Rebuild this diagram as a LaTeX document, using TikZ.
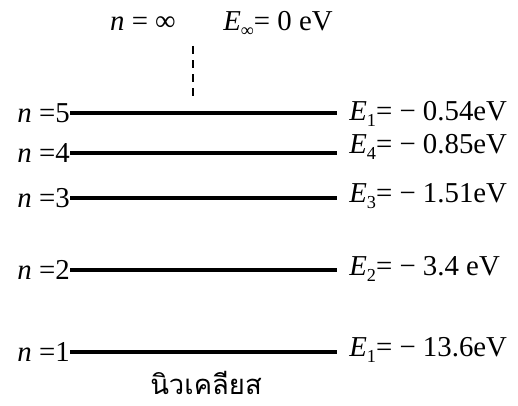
\documentclass[tikz,border=0pt]{standalone}
\usepackage{fontspec}
\setmainfont{Liberation Serif}
\newfontfamily\thaifont[Script=Thai]{Loma}
\usepackage{tikz}
\usetikzlibrary{positioning, calc}
\tikzset{
  lvl label/.style={
    inner sep=0pt,
    font=\fontsize{20.5}{24}\selectfont
  },
  n label/.style={lvl label, anchor=east},
  e label/.style={lvl label, anchor=west},
  level line/.style={
    line width=2.2pt,
    shorten >=0.3cm
  },
  limit line/.style={
    line width=1.2pt,
    dash pattern=on 0.2cm off 0.15cm
  }
}
\newcommand{\en}[1]{\textit{E}\raisebox{-0.45ex}{\fontsize{13}{14}\selectfont #1}}

\begin{document}
\begin{tikzpicture}[x=0.025cm, y=-0.025cm]
  \useasboundingbox (0,0) rectangle (518,406);

  % Top: ionisation limit
  \node[lvl label] (ninf) at (143, 24) {\textit{n} = ∞};
  \node[lvl label] (einf) at (278, 24) {\en{∞}= 0 eV};
  \coordinate (dtop) at (193, 46);
  \coordinate (dbot) at (193, 98);
  \draw[limit line] (dtop) -- (dbot);

  % Left labels
  \node[n label] (n5) at (70, 113) {\textit{n} =5};
  \node[n label] (n4) at (70, 153) {\textit{n} =4};
  \node[n label] (n3) at (70, 198) {\textit{n} =3};
  \node[n label] (n2) at (70, 270) {\textit{n} =2};
  \node[n label] (n1) at (70, 352) {\textit{n} =1};

  % Right labels
  \node[e label] (e5) at (349, 114) {\en{1}= − 0.54eV};
  \node[e label] (e4) at (349, 147) {\en{4}= − 0.85eV};
  \node[e label] (e3) at (349, 196) {\en{3}= − 1.51eV};
  \node[e label] (e2) at (349, 269) {\en{2}= − 3.4 eV};
  \node[e label] (e1) at (349, 350) {\en{1}= − 13.6eV};

  % Levels
  \draw[level line] (n5.east) -- (n5.east -| e5.west);
  \draw[level line] (n4.east) -- (n4.east -| e4.west);
  \draw[level line] (n3.east) -- (n3.east -| e3.west);
  \draw[level line] (n2.east) -- (n2.east -| e2.west);
  \draw[level line] (n1.east) -- (n1.east -| e1.west);

  % Nucleus
  \node[font=\thaifont\fontsize{19.5}{24}\selectfont, inner sep=0pt] (nucleus) at (206, 383) {นิวเคลียส};
\end{tikzpicture}
\end{document}
